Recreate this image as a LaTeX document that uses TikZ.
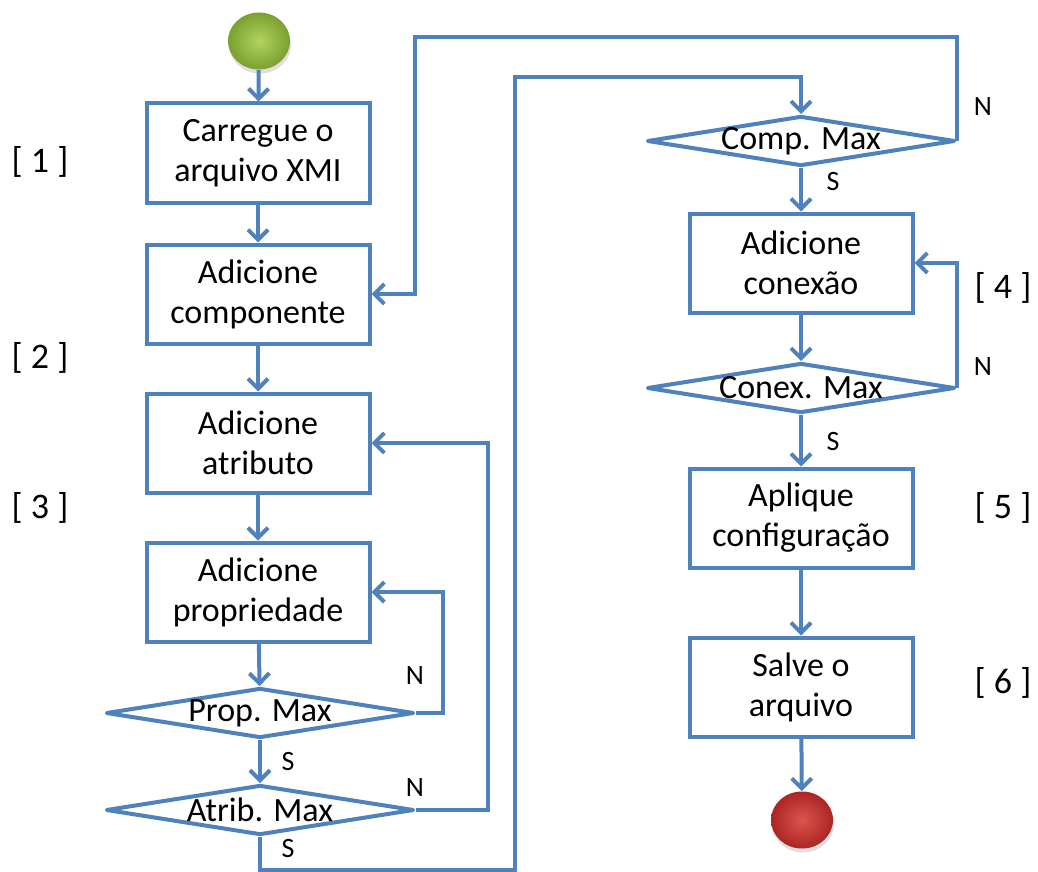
\documentclass[tikz,border=0pt]{standalone}
\usepackage{fontspec}
\setmainfont{Carlito}
\definecolor{LinhaAzul}{RGB}{79,129,189}
\definecolor{VerdeClaro}{RGB}{178,212,96}
\definecolor{VerdeEscuro}{RGB}{122,160,48}
\definecolor{VermelhoClaro}{RGB}{222,84,78}
\definecolor{VermelhoEscuro}{RGB}{170,38,36}
\usetikzlibrary{arrows.meta, shapes.geometric, positioning, shadows}

\begin{document}
\begin{tikzpicture}[x=0.5pt, y=-0.5pt,
	font=\fontsize{17}{20}\selectfont,
	caixa/.style={rectangle, draw=LinhaAzul, line width=2pt, fill=white,
		minimum width=111.5pt, minimum height=49.5pt, align=center,
		inner sep=2pt, drop shadow={opacity=0.12, shadow xshift=1pt, shadow yshift=-1pt}},
	decisao/.style={diamond, draw=LinhaAzul, line width=2pt, fill=white,
		line join=round, aspect=6, minimum width=154pt, minimum height=25pt,
		inner sep=0pt, label={[anchor=center, inner sep=0pt]center:#1}},
	terminal/.style={ellipse, minimum width=31pt, minimum height=28.5pt,
		shading=radial, drop shadow={opacity=0.25, shadow xshift=0.5pt, shadow yshift=-2pt}},
	seta/.style={-{Straight Barb[length=5pt, width=10pt]}, line width=2pt, LinhaAzul},
	rotulo/.style={font=\fontsize{14}{16}\selectfont},
	passo/.style={font=\fontsize{18}{20}\selectfont}]

	\useasboundingbox (0,0) rectangle (1038,872);

	\node[terminal, inner color=VerdeClaro, outer color=VerdeEscuro] (inicio) at (259,41) {};

	\node[caixa] (b1) at (258,153) {Carregue o\\arquivo XMI};
	\node[caixa] (b2) at (258,294) {Adicione\\componente};
	\node[caixa] (b3) at (258,443) {Adicione\\atributo};
	\node[caixa] (b4) at (258,592) {Adicione\\propriedade};
	\node[decisao=Prop. Max] (d1) at (260,713) {};
	\node[decisao=Atrib. Max] (d2) at (260,810) {};

	\node[decisao=Comp. Max] (c1) at (801,141) {};
	\node[caixa] (b5) at (801,263) {Adicione\\conex\~ao};
	\node[decisao=Conex. Max] (c2) at (801,388) {};
	\node[caixa] (b6) at (801,518) {Aplique\\configura\c{c}\~ao};
	\node[caixa] (b7) at (801,687) {Salve o\\arquivo};
	\node[terminal, inner color=VermelhoClaro, outer color=VermelhoEscuro] (fim) at (802,820) {};

	\coordinate (alto) at (415,37);
	\coordinate (topo) at (515,77);
	\coordinate (baixo) at (515,870);

	\draw[seta] (inicio) -- (b1);
	\draw[seta] (b1) -- (b2);
	\draw[seta] (b2) -- (b3);
	\draw[seta] (b3) -- (b4);
	\draw[seta] (b4) -- (d1);
	\draw[seta] (d1) -- (d2);
	\draw[seta] (d1.east) -- ++(27,0) |- (b4.east);
	\draw[seta] (d2.east) -- ++(72,0) |- (b3.east);
	\draw[seta] (d2.south) |- (baixo) -- (topo) -| (c1.north);
	\draw[seta] (c1.east) |- (alto) |- (b2.east);
	\draw[seta] (c1) -- (b5);
	\draw[seta] (b5) -- (c2);
	\draw[seta] (c2.east) |- (b5.east);
	\draw[seta] (c2) -- (b6);
	\draw[seta] (b6) -- (b7);
	\draw[seta] (b7) -- (fim);

	\node[rotulo] (n1) at (415,676) {N};
	\node[rotulo] (s1) at (288,762) {S};
	\node[rotulo] (n2) at (415,788) {N};
	\node[rotulo] (s2) at (288,849) {S};
	\node[rotulo] (n3) at (983,107) {N};
	\node[rotulo] (s3) at (833,182) {S};
	\node[rotulo] (n4) at (983,367) {N};
	\node[rotulo] (s4) at (833,442) {S};

	\node[passo] (p1) at (40,162) {[ 1 ]};
	\node[passo] (p2) at (40,358) {[ 2 ]};
	\node[passo] (p3) at (40,508) {[ 3 ]};
	\node[passo] (p4) at (1003,288) {[ 4 ]};
	\node[passo] (p5) at (1003,508) {[ 5 ]};
	\node[passo] (p6) at (1003,683) {[ 6 ]};
\end{tikzpicture}
\end{document}
